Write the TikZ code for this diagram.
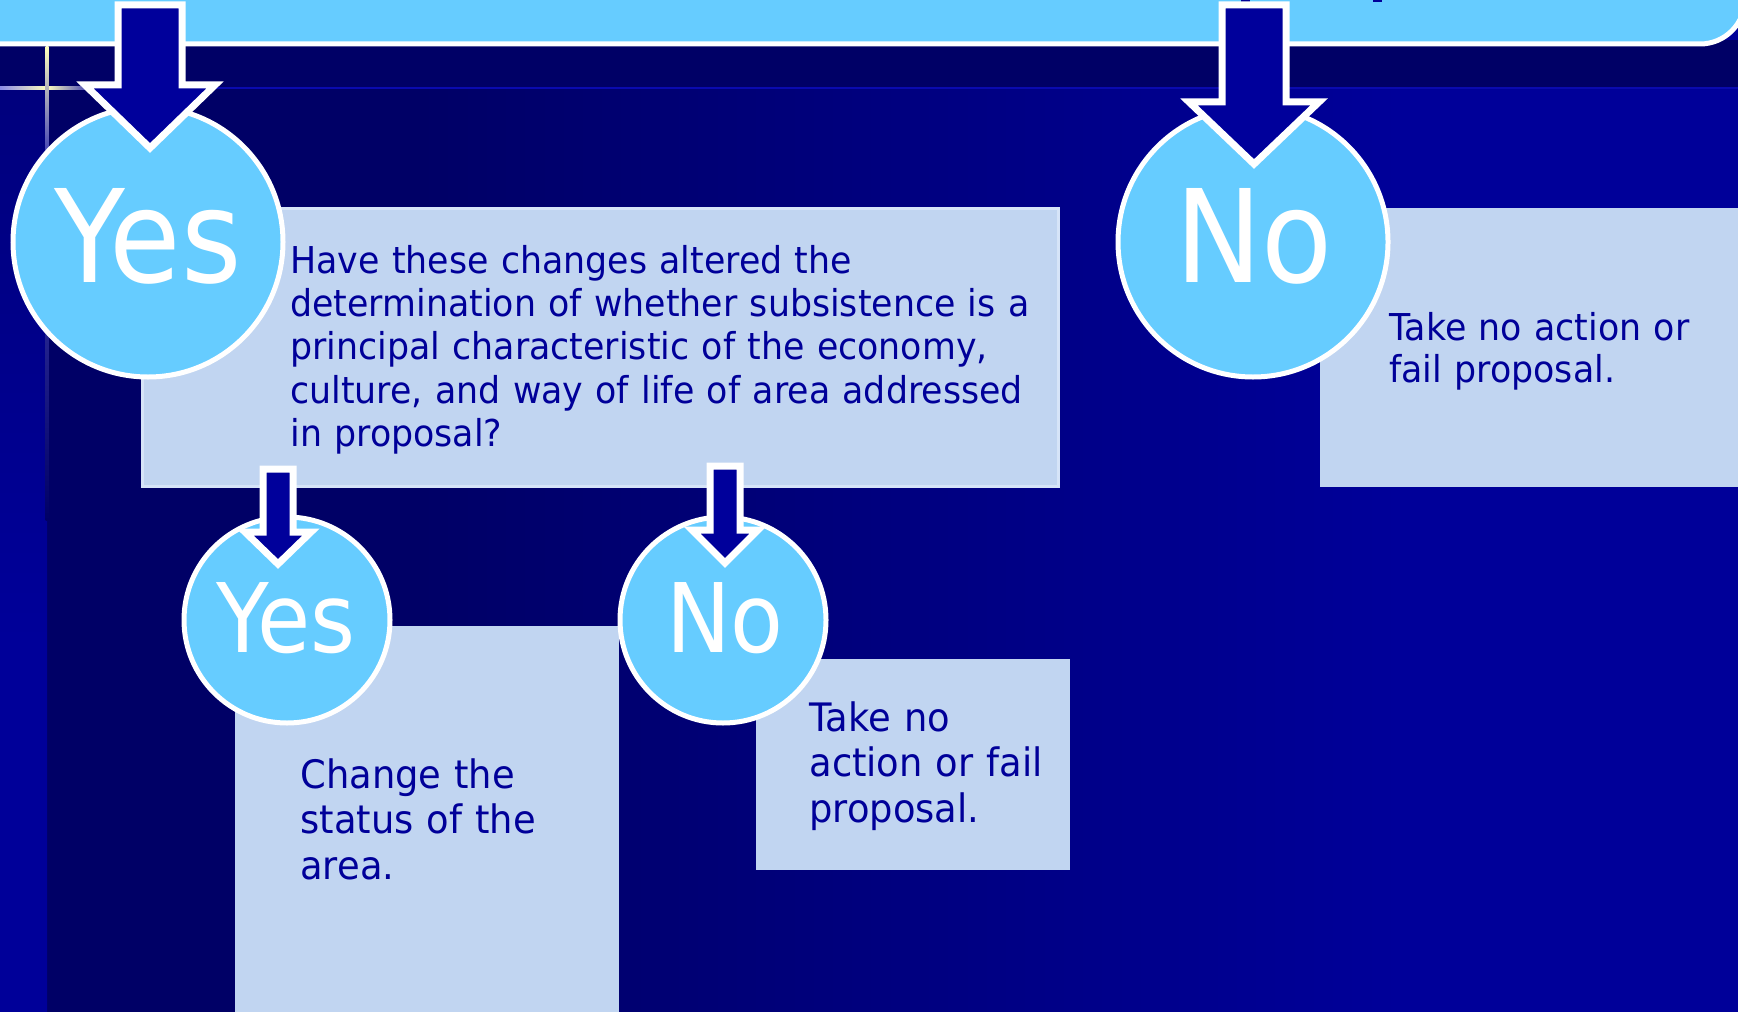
\documentclass[tikz,border=0pt]{standalone}
\usepackage{fontspec}
\setmainfont{DejaVu Sans}[FakeStretch=0.94]
\newfontfamily\circfont{DejaVu Sans}[FakeStretch=0.9]
\definecolor{navybg}{RGB}{0,0,102}
\definecolor{bluebg}{RGB}{0,0,153}
\definecolor{lineblue}{RGB}{10,10,175}
\definecolor{arrowblue}{RGB}{0,0,155}
\definecolor{circblue}{RGB}{102,204,255}
\definecolor{boxfill}{RGB}{193,213,241}
\definecolor{boxedge}{RGB}{214,228,248}
\definecolor{textblue}{RGB}{0,0,153}
\definecolor{glowyellow}{RGB}{255,255,190}
\definecolor{glowblue}{RGB}{70,70,180}
\definecolor{glowleft}{RGB}{140,140,230}
\pgfdeclarehorizontalshading{bgshade}{100bp}{color(0bp)=(navybg); color(36bp)=(navybg); color(65bp)=(bluebg); color(100bp)=(bluebg)}
\pgfdeclareverticalshading{leftshade}{100bp}{color(0bp)=(bluebg); color(45bp)=(bluebg); color(100bp)=(navybg)}
\tikzset{
  circ/.style={circle, fill=circblue, draw=white, line width=2.5pt, inner sep=0pt},
  infobox/.style={rectangle, fill=boxfill, inner sep=0pt, outer sep=0pt, anchor=north west},
  qboxstyle/.style={infobox, draw=boxedge, line width=1.5pt},
  bigletter/.style={text=white, font=\circfont\fontsize{64.5}{64.5}\selectfont, inner sep=0pt, anchor=base},
  smallletter/.style={text=white, font=\circfont\fontsize{48}{48}\selectfont, inner sep=0pt, anchor=base},
  bodytext/.style={text=textblue, inner sep=0pt, anchor=base west, align=left},
  blockarrow/.style={fill=arrowblue, draw=white, line width=3.5pt, line join=miter, miter limit=10},
}
% cx, top, neck, tip, shaft half width, head half width
\newcommand\mydownarrow[6]{%
  \path[blockarrow] (#1-#5,#2) -- (#1+#5,#2) -- (#1+#5,#3) -- (#1+#6,#3) -- (#1,#4) -- (#1-#6,#3) -- (#1-#5,#3) -- cycle;}
\begin{document}
\begin{tikzpicture}[x=0.5pt,y=-0.5pt]
\useasboundingbox (0,0) rectangle (1738,1011);
\clip (0,0) rectangle (1738,1011);
% background
\fill[bluebg] (0,0) rectangle (1738,1011);
\fill[navybg] (0,40) rectangle (1738,88);
\shade[shading=bgshade] (47,88) rectangle (1738,1011);
\shade[shading=leftshade] (0,88) rectangle (47,1011);
% decorative lines
\fill[lineblue] (0,87) rectangle (1738,89.5);
\shade[left color=glowleft, right color=glowyellow] (0,86.5) rectangle (47,90);
\shade[left color=glowyellow, right color=lineblue] (47,86.5) rectangle (100,90);
\shade[top color=glowyellow, bottom color=glowblue] (45.5,47) rectangle (48.5,150);
\shade[top color=glowblue, bottom color=navybg] (45.5,150) rectangle (48.5,520);
% top band
\draw[fill=circblue, draw=white, line width=2.5pt, rounded corners=22.5pt] (-120,-100) rectangle (1745,44);
\fill[textblue] (1241,-2) rectangle (1250,2);
\fill[textblue] (1373,-2) rectangle (1382,2);
% upper boxes
\node[qboxstyle, minimum width=458pt, minimum height=139pt] (q) at (142,208) {};
\node[infobox, minimum width=209pt, minimum height=139.5pt] (rbox) at (1320,208) {};
% big circles
\node[circ, minimum size=135pt] (yesA) at (148,242) {};
\node[circ, minimum size=135pt] (noA) at (1253,242) {};
% big arrows
\mydownarrow{150}{5}{85}{148}{32}{65}
\mydownarrow{1254}{5}{102}{164}{32}{65}
\node[bigletter] (yesAt) at (148,282) {Yes};
\node[bigletter] (noAt) at (1254,282) {No};
% upper texts
\node[bodytext, text width=390pt, font=\fontsize{18.5}{21.7}\selectfont] (qt) at (290,273)
  {Have these changes altered the\\determination of whether subsistence is a\\principal characteristic of the economy,\\culture, and way of life of area addressed\\in proposal?};
\node[bodytext, text width=190pt, font=\fontsize{18.5}{21}\selectfont] (rt) at (1389,340)
  {Take no action or\\fail proposal.};
% lower boxes
\node[infobox, minimum width=192pt, minimum height=200pt] (cbox) at (235,626) {};
\node[infobox, minimum width=157pt, minimum height=105.5pt] (tbox) at (756,659) {};
% small circles
\node[circ, minimum size=103pt] (yesB) at (287,620) {};
\node[circ, minimum size=103pt] (noB) at (723,620) {};
% small arrows
\mydownarrow{278}{469}{532}{564}{15}{33}
\mydownarrow{725}{466}{530}{563}{15}{33}
\node[smallletter] (yesBt) at (286,652) {Yes};
\node[smallletter] (noBt) at (725,652) {No};
% lower texts
\node[bodytext, text width=150pt, font=\fontsize{19.6}{22.8}\selectfont] (ct) at (300,788)
  {Change the\\status of the\\area.};
\node[bodytext, text width=140pt, font=\fontsize{19.6}{22.8}\selectfont] (tt) at (809,731)
  {Take no\\action or fail\\proposal.};
\end{tikzpicture}
\end{document}
